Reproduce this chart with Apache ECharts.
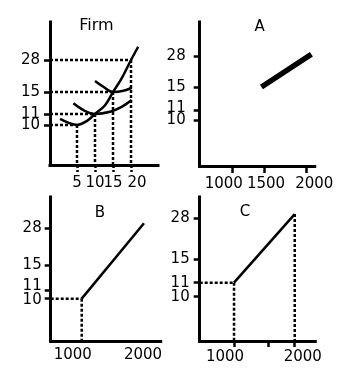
<!DOCTYPE html>
<html><head><meta charset="utf-8">
<script src="https://cdn.jsdelivr.net/npm/echarts@6/dist/echarts.min.js"></script>
<style>html,body{margin:0;padding:0;background:#fff}#c{width:356px;height:385px}</style>
</head><body><div id="c"></div>
<script>
// ---------- data ----------
const yTickValues = [10, 11, 15, 28];
const firmXTicks = [5, 10, 15, 20];
const firmCurve1 = [[0.3,10.55],[2.6,10.2],[5,10],[7.7,10.35],[10,11],[12.8,12.6],[15,15],[17.4,20.6],[20,28],[22,33.4]];
const firmCurve2 = [[4,12.95],[6.8,11.7],[10,11],[14.2,11.4],[17.4,12.3],[20.2,13.55]];
const firmCurve3 = [[10,19.5],[12.3,17.15],[15,15],[17.9,15.5],[20.2,16.75]];
const firmGuides = [[5,10],[10,11],[15,15],[20,28]];
const aXTicks = [1000, 1500, 2000];
const aSupply = [[1460,15],[2060,28.7]];
const bXTicks = [1000, 2000];
const bSupply = [[1000,10],[2000,29.7]];
const bHGuides = [[1000,10]];
const bVGuides = [[1000,10]];
const cXTicks = [1000, 1560, 2000];
const cXLabels = [1000, 2000];
const cSupply = [[1000,11],[2000,29.3]];
const cHGuides = [[1000,11]];
const cVGuides = [[1000,11],[2000,29.3]];

// ---------- layout (hand-drawn, non-uniform axes) ----------
function scale(vs, fs){
  return v => {
    let i = 0;
    if (v >= vs[vs.length-1]) i = vs.length-2;
    else if (v > vs[0]) { while (v > vs[i+1]) i++; }
    return fs[i] + (v - vs[i]) * (fs[i+1] - fs[i]) / (vs[i+1] - vs[i]);
  };
}
// label order chosen so neighbouring entries are far apart (avoids min/max label pruning)
const yLabelOrder = [10, 28, 11, 15];
const FONT = 'DejaVu Sans';
const panels = [
  { title:'Firm', tx:96.5, ty:26, tsize:16,
    grid:{left:50, top:22, width:108, height:143},
    xs:scale([5,20],[0.25,0.75]), ys:scale(yTickValues,[0.280,0.357,0.510,0.734]),
    xTicks:firmXTicks, xLabels:firmXTicks, xShift:{20:6}, yShift:{}, xTickDash:true, xTickLen:7, xMargin:10.5, yMargin:10,
    curves:[{d:firmCurve1,w:2.5,smooth:0.35},{d:firmCurve2,w:2.5,smooth:0.35},{d:firmCurve3,w:2.5,smooth:0.35}],
    hg:firmGuides, vg:firmGuides },
  { title:'A', tx:259.7, ty:27, tsize:15,
    grid:{left:199.7, top:22, width:115, height:144},
    xs:scale(aXTicks,[0.2835,0.559,0.927]), ys:scale(yTickValues,[0.319,0.384,0.549,0.764]),
    xTicks:aXTicks, xLabels:aXTicks, xShift:{1000:-8.5,1500:2,2000:8}, yShift:{11:-2.4}, xTickLen:7, xMargin:10.8, yMargin:14,
    curves:[{d:aSupply,w:5.5,smooth:false}], hg:[], vg:[] },
  { title:'B', tx:100, ty:213.5, tsize:15,
    grid:{left:50.7, top:197, width:110, height:144},
    xs:scale(bXTicks,[0.282,0.848]), ys:scale(yTickValues,[0.294,0.354,0.524,0.784]),
    xTicks:[], xLabels:bXTicks, xShift:{1000:-9,2000:-1}, yShift:{11:-4,10:1.5}, xTickLen:0, xMargin:6.5, yMargin:9,
    curves:[{d:bSupply,w:2.5,smooth:false}], hg:bHGuides, vg:bVGuides },
  { title:'C', tx:245, ty:211.7, tsize:15,
    grid:{left:199.7, top:197, width:115.6, height:144},
    xs:scale([1000,2000],[0.297,0.822]), ys:scale(yTickValues,[0.308,0.405,0.570,0.853]),
    xTicks:cXTicks, xLabels:cXLabels, xShift:{1000:-9,2000:8}, yShift:{}, xTickLen:6, xMargin:9, yMargin:10,
    curves:[{d:cSupply,w:2.5,smooth:false}], hg:cHGuides, vg:cVGuides }
];

const grids = [], xAxes = [], yAxes = [], series = [], graphics = [];
const lineCol = '#000';
function richFor(shift){
  return shift >= 0 ? {padding:[0,0,0,2*shift]} : {padding:[0,-2*shift,0,0]};
}
function richForY(shift){
  return shift >= 0 ? {padding:[2*shift,0,0,0]} : {padding:[0,0,-2*shift,0]};
}
panels.forEach((p, i) => {
  grids.push(Object.assign({containLabel:false}, p.grid));
  const xl = p.xLabels.map(v => p.xs(v));
  const rich = {};
  p.xLabels.forEach((v, k) => {
    rich['s'+k] = Object.assign({fontFamily:FONT, fontSize:15, color:'#000'}, richFor((p.xShift||{})[v]||0));
  });
  const yrich = {};
  yTickValues.forEach((v, k) => {
    yrich['y'+k] = Object.assign({fontFamily:FONT, fontSize:15, lineHeight:8, color:'#000'}, richForY((p.yShift||{})[v]||0));
  });
  xAxes.push({
    gridIndex:i, type:'value', min:0, max:1,
    splitLine:{show:false},
    axisLine:{show:true, onZero:false, lineStyle:{color:lineCol, width:3, cap:'square'}},
    axisTick:{show:p.xTicks.length>0, customValues:p.xTicks.map(v=>p.xs(v)), length:p.xTickLen||1,
      lineStyle:{color:lineCol, width:2.5, type:p.xTickDash?[3,2]:'solid'}},
    axisLabel:{show:true, customValues:xl, margin:p.xMargin, hideOverlap:false,
      showMinLabel:true, showMaxLabel:true,
      fontFamily:FONT, fontSize:15, color:'#000', rich:rich,
      formatter:(val) => {
        let best = 0, bd = 1e9;
        p.xLabels.forEach((v,k) => { const d = Math.abs(p.xs(v)-val); if (d < bd) { bd = d; best = k; } });
        return '{s'+best+'|'+p.xLabels[best]+'}';
      }}
  });
  yAxes.push({
    gridIndex:i, type:'value', min:0, max:1,
    splitLine:{show:false},
    axisLine:{show:true, onZero:false, lineStyle:{color:lineCol, width:3, cap:'square'}},
    axisTick:{show:true, customValues:yTickValues.map(v=>p.ys(v)), length:6, lineStyle:{color:lineCol, width:2.5}},
    axisLabel:{show:true, customValues:yLabelOrder.map(v=>p.ys(v)), margin:p.yMargin, hideOverlap:false,
      showMinLabel:true, showMaxLabel:true,
      fontFamily:FONT, fontSize:15, lineHeight:8, color:'#000', rich:yrich,
      formatter:(val) => {
        let best = 0, bd = 1e9;
        yTickValues.forEach((v,k) => { const d = Math.abs(p.ys(v)-val); if (d < bd) { bd = d; best = k; } });
        return '{y'+best+'|'+yTickValues[best]+'}';
      }}
  });
  const dash = {color:lineCol, width:2.5, type:[3,2]};
  p.hg.forEach(pt => series.push({type:'line', xAxisIndex:i, yAxisIndex:i, symbol:'none', silent:true, z:2,
    lineStyle:dash, data:[[0, p.ys(pt[1])],[p.xs(pt[0]), p.ys(pt[1])]]}));
  p.vg.forEach(pt => series.push({type:'line', xAxisIndex:i, yAxisIndex:i, symbol:'none', silent:true, z:2,
    lineStyle:dash, data:[[p.xs(pt[0]), p.ys(pt[1])],[p.xs(pt[0]), 0]]}));
  p.curves.forEach(c => series.push({type:'line', xAxisIndex:i, yAxisIndex:i, symbol:'none', silent:true, z:3,
    smooth:c.smooth, lineStyle:{color:lineCol, width:c.w, cap:'butt'},
    data:c.d.map(pt => [p.xs(pt[0]), p.ys(pt[1])])}));
  graphics.push({type:'text', x:p.tx, y:p.ty, style:{text:p.title, fontFamily:FONT, fontSize:p.tsize,
    fill:'#000', align:'center', verticalAlign:'middle'}});
});

const chart = echarts.init(document.getElementById('c'), null, {renderer:'canvas'});
chart.setOption({
  animation:false, backgroundColor:'#fff',
  grid:grids, xAxis:xAxes, yAxis:yAxes, series:series, graphic:graphics
});
</script>
</body></html>
